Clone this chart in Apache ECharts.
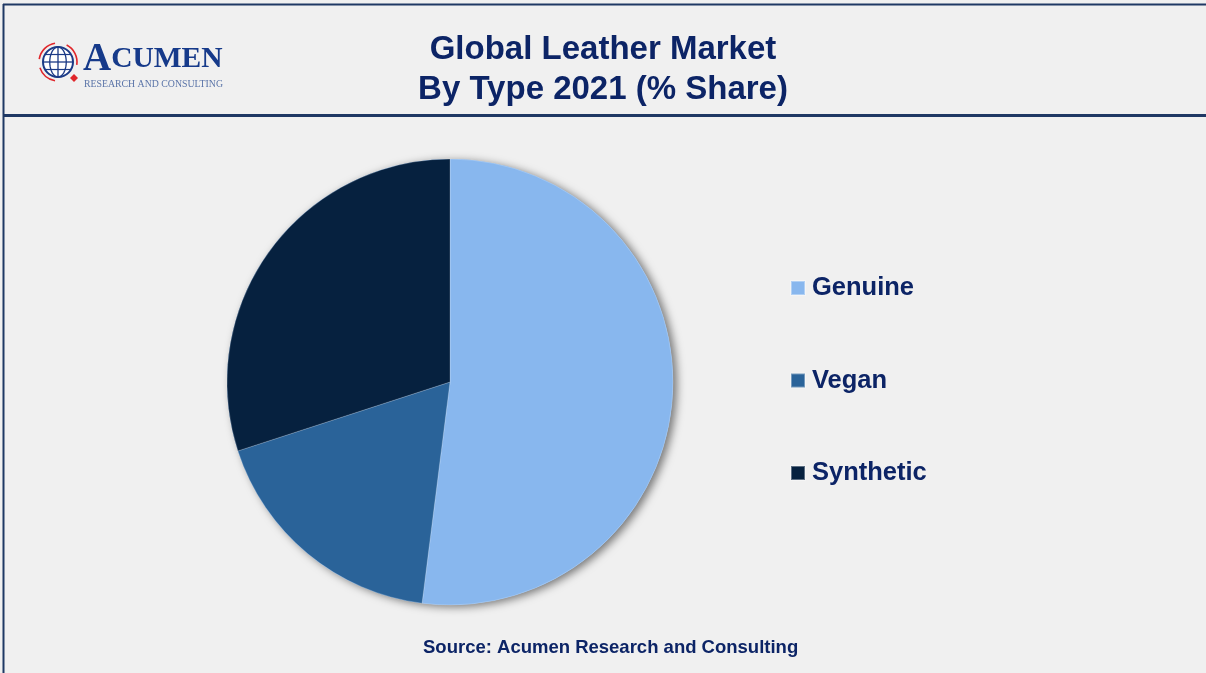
<!DOCTYPE html>
<html>
<head>
<meta charset="utf-8">
<script src="https://cdn.jsdelivr.net/npm/echarts@6/dist/echarts.min.js"></script>
<style>
  html, body { margin: 0; padding: 0; background: #f0f0f0; }
  #chart { width: 1206px; height: 673px; }
</style>
</head>
<body>
<div id="chart"></div>
<script>
// Share of the global leather market by type, 2021 (%)
const categories = ['Genuine', 'Vegan', 'Synthetic'];
const shares = [52, 18, 30];
const sliceColors = ['#88b7ee', '#2a6399', '#06213f'];

const titleText = 'Global Leather Market\nBy Type 2021 (% Share)';
const sourceText = 'Source: Acumen Research and Consulting';

const NAVY = '#0c2466';
const SANS = 'Liberation Sans, Arial, sans-serif';
const SERIF = 'Liberation Serif, DejaVu Serif, serif';

// globe icon of the logo: outline, meridians and parallels
function ellipsePoints(cx, cy, rx, ry, n) {
  const pts = [];
  for (let i = 0; i <= n; i++) {
    const t = (i / n) * Math.PI * 2;
    pts.push([cx + rx * Math.cos(t), cy + ry * Math.sin(t)]);
  }
  return pts;
}
const gx = 58, gy = 62, gr = 15;
const globe = [
  { type: 'circle', shape: { cx: gx, cy: gy, r: gr }, style: { fill: '#ffffff', stroke: '#1b3a86', lineWidth: 2 } },
  { type: 'polyline', shape: { points: ellipsePoints(gx, gy, gr * 0.55, gr, 40) }, style: { fill: null, stroke: '#1b3a86', lineWidth: 1.3 } },
  { type: 'line', shape: { x1: gx, y1: gy - gr, x2: gx, y2: gy + gr }, style: { stroke: '#1b3a86', lineWidth: 1.3 } },
  { type: 'line', shape: { x1: gx - gr, y1: gy, x2: gx + gr, y2: gy }, style: { stroke: '#1b3a86', lineWidth: 1.3 } },
  { type: 'line', shape: { x1: gx - gr * 0.85, y1: gy - gr * 0.5, x2: gx + gr * 0.85, y2: gy - gr * 0.5 }, style: { stroke: '#1b3a86', lineWidth: 1.2 } },
  { type: 'line', shape: { x1: gx - gr * 0.85, y1: gy + gr * 0.5, x2: gx + gr * 0.85, y2: gy + gr * 0.5 }, style: { stroke: '#1b3a86', lineWidth: 1.2 } },
  // red circling arrows
  { type: 'arc', shape: { cx: gx, cy: gy, r: gr + 4, startAngle: -Math.PI * 0.95, endAngle: -Math.PI * 0.55 }, style: { stroke: '#e0262b', lineWidth: 1.6, fill: null } },
  { type: 'arc', shape: { cx: gx, cy: gy, r: gr + 4, startAngle: -Math.PI * 0.35, endAngle: Math.PI * 0.05 }, style: { stroke: '#e0262b', lineWidth: 1.6, fill: null } },
  { type: 'arc', shape: { cx: gx, cy: gy, r: gr + 4, startAngle: Math.PI * 0.55, endAngle: Math.PI * 0.9 }, style: { stroke: '#e0262b', lineWidth: 1.6, fill: null } },
  { type: 'polygon', shape: { points: [[gx + 16, gy + 12], [gx + 20, gy + 16], [gx + 16, gy + 20], [gx + 12, gy + 16]] }, style: { fill: '#e0262b' } }
];

const total = shares.reduce((a, b) => a + b, 0);
const pieCenter = [450, 382];
const pieRadius = 223;

const chart = echarts.init(document.getElementById('chart'), null, { renderer: 'canvas' });

chart.setOption({
  backgroundColor: '#f0f0f0',
  animation: false,
  title: [
    {
      text: titleText,
      left: 'center',
      top: 25,
      textStyle: {
        fontFamily: SANS,
        fontSize: 33,
        fontWeight: 'bold',
        color: NAVY,
        lineHeight: 40
      }
    },
    {
      text: sourceText,
      left: 418,
      top: 633,
      textStyle: {
        fontFamily: SANS,
        fontSize: 18.5,
        fontWeight: 'bold',
        color: NAVY
      }
    }
  ],
  legend: {
    orient: 'vertical',
    left: 785,
    top: 270,
    icon: 'rect',
    itemWidth: 14,
    itemHeight: 14,
    itemGap: 66.5,
    data: categories,
    textStyle: {
      fontFamily: SANS,
      fontSize: 25.5,
      fontWeight: 'bold',
      color: NAVY,
      padding: [0, 0, 0, 2]
    }
  },
  series: [
    {
      // soft drop shadow under the whole disc
      type: 'pie',
      silent: true,
      z: 1,
      center: pieCenter,
      radius: pieRadius,
      label: { show: false },
      labelLine: { show: false },
      emphasis: { disabled: true },
      tooltip: { show: false },
      legendHoverLink: false,
      itemStyle: {
        color: '#88b7ee',
        shadowBlur: 9,
        shadowOffsetX: 4,
        shadowOffsetY: 2,
        shadowColor: 'rgba(0,0,0,0.5)'
      },
      data: [{ name: '', value: total }]
    },
    {
      type: 'pie',
      z: 2,
      center: pieCenter,
      radius: pieRadius,
      startAngle: 90,
      clockwise: true,
      label: { show: false },
      labelLine: { show: false },
      emphasis: { disabled: true },
      itemStyle: {
        borderColor: 'rgba(255,255,255,0.35)',
        borderWidth: 0.6
      },
      data: categories.map((name, i) => ({
        name,
        value: shares[i],
        itemStyle: { color: sliceColors[i] }
      }))
    }
  ],
  graphic: [
    // frame and header rule
    { type: 'line', shape: { x1: 3, y1: 4.5, x2: 1206, y2: 4.5 }, style: { stroke: '#1f3864', lineWidth: 2 } },
    { type: 'line', shape: { x1: 3.5, y1: 4, x2: 3.5, y2: 673 }, style: { stroke: '#1f3864', lineWidth: 2 } },
    { type: 'line', shape: { x1: 3, y1: 115.5, x2: 1206, y2: 115.5 }, style: { stroke: '#1f3864', lineWidth: 3 } },
    // logo
    { type: 'group', children: globe },
    {
      type: 'text',
      left: 83,
      top: 40,
      style: {
        text: '{a|A}{b|CUMEN}',
        rich: {
          a: { fontFamily: SERIF, fontSize: 39, fontWeight: 'bold', fill: '#163a8a' },
          b: { fontFamily: SERIF, fontSize: 29.5, fontWeight: 'bold', fill: '#163a8a' }
        }
      }
    },
    {
      type: 'text',
      left: 84,
      top: 79,
      style: {
        text: 'RESEARCH AND CONSULTING',
        fontFamily: SERIF,
        fontSize: 9.8,
        fill: '#5a74a8'
      }
    }
  ]
});
</script>
</body>
</html>
